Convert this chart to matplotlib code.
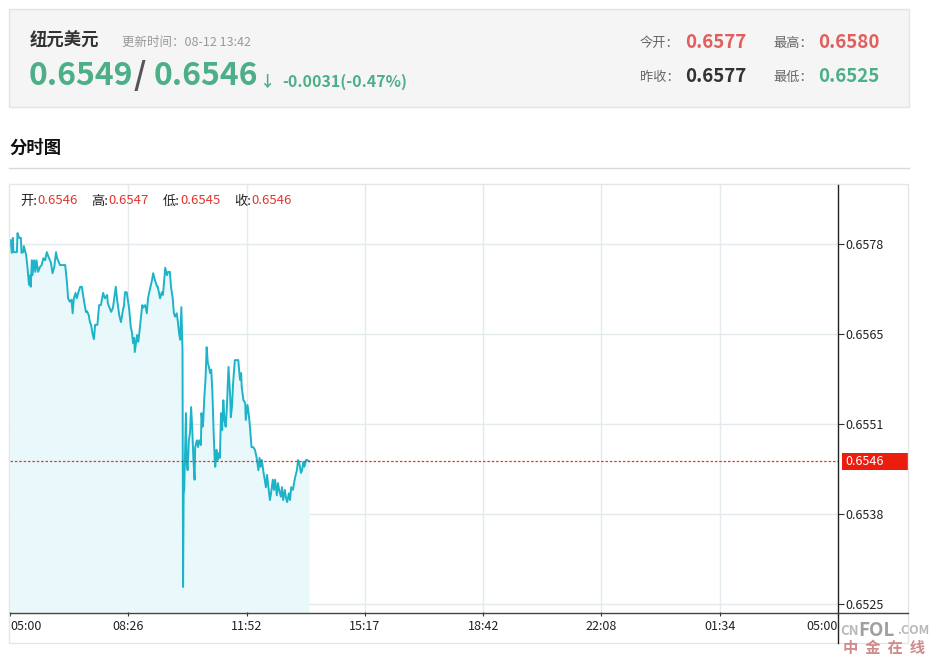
import matplotlib
matplotlib.use('Agg')
import matplotlib.pyplot as plt
from matplotlib.patches import Rectangle
from matplotlib.lines import Line2D
import matplotlib.transforms as mtransforms
import numpy as np

plt.rcParams['font.family'] = ['Noto Sans CJK SC', 'DejaVu Sans']

# ---- data (minutes after 05:00, price) ----
minutes = [0, 1, 3, 5, 6, 12, 13, 16, 19, 20, 23, 24, 28, 30, 33, 35, 36, 38, 39, 42,
           44, 46, 49, 52, 55, 58, 61, 64, 67, 71, 74, 77, 80, 82, 87, 96, 99, 101, 104, 107,
           109, 111, 114, 116, 119, 122, 125, 127, 130, 132, 134, 137, 139, 141, 144, 146, 148, 152, 155, 158,
           162, 165, 169, 170, 176, 179, 184, 186, 190, 193, 197, 198, 200, 203, 207, 210, 212, 214, 216, 217,
           221, 223, 224, 228, 230, 231, 235, 238, 240, 243, 247, 249, 252, 256, 257, 261, 264, 266, 270, 273,
           275, 278, 280, 283, 285, 287, 290, 292, 294, 296, 298, 300, 301, 302, 303, 306, 307, 309, 311, 313,
           315, 317, 319, 321, 322, 325, 327, 329, 332, 333, 335, 336, 338, 340, 342, 344, 346, 348, 350, 352,
           354, 356, 357, 359, 361, 363, 365, 367, 369, 371, 373, 375, 377, 380, 383, 384, 386, 388, 391, 397,
           400, 402, 403, 406, 409, 410, 413, 415, 417, 420, 423, 426, 429, 432, 434, 436, 438, 441, 443, 445,
           447, 450, 452, 454, 457, 459, 461, 464, 466, 468, 471, 473, 475, 478, 480, 482, 485, 487, 489, 492,
           494, 496, 499, 501, 503, 506, 508, 510, 512, 515, 517, 520]
prices = [0.65783, 0.65786, 0.65767, 0.65789, 0.65768, 0.65768, 0.65796, 0.65789, 0.65789, 0.65767,
          0.65768, 0.65777, 0.65764, 0.65749, 0.65720, 0.65734, 0.65717, 0.65756, 0.65734, 0.65756,
          0.65739, 0.65756, 0.65739, 0.65746, 0.65749, 0.65759, 0.65756, 0.65768, 0.65761, 0.65753,
          0.65737, 0.65746, 0.65768, 0.65759, 0.65749, 0.65749, 0.65724, 0.65700, 0.65695, 0.65698,
          0.65678, 0.65700, 0.65708, 0.65700, 0.65709, 0.65717, 0.65717, 0.65705, 0.65690, 0.65680,
          0.65681, 0.65675, 0.65665, 0.65661, 0.65646, 0.65640, 0.65661, 0.65661, 0.65690, 0.65690,
          0.65708, 0.65700, 0.65705, 0.65693, 0.65680, 0.65686, 0.65717, 0.65700, 0.65675, 0.65665,
          0.65686, 0.65687, 0.65709, 0.65709, 0.65686, 0.65658, 0.65650, 0.65634, 0.65642, 0.65621,
          0.65646, 0.65636, 0.65642, 0.65673, 0.65690, 0.65686, 0.65690, 0.65678, 0.65700, 0.65712,
          0.65727, 0.65737, 0.65727, 0.65717, 0.65717, 0.65700, 0.65709, 0.65705, 0.65745, 0.65734,
          0.65739, 0.65739, 0.65717, 0.65700, 0.65678, 0.65673, 0.65678, 0.65665, 0.65649, 0.65639,
          0.65687, 0.65624, 0.65275, 0.65413, 0.65418, 0.65531, 0.65458, 0.65447, 0.65491, 0.65502,
          0.65540, 0.65506, 0.65462, 0.65433, 0.65481, 0.65491, 0.65481, 0.65491, 0.65484, 0.65531,
          0.65511, 0.65518, 0.65555, 0.65580, 0.65628, 0.65605, 0.65599, 0.65590, 0.65595, 0.65561,
          0.65506, 0.65462, 0.65452, 0.65477, 0.65462, 0.65472, 0.65465, 0.65531, 0.65506, 0.65550,
          0.65521, 0.65511, 0.65536, 0.65599, 0.65555, 0.65525, 0.65540, 0.65575, 0.65609, 0.65609,
          0.65580, 0.65590, 0.65569, 0.65550, 0.65546, 0.65521, 0.65543, 0.65531, 0.65514, 0.65481,
          0.65481, 0.65477, 0.65465, 0.65447, 0.65465, 0.65452, 0.65462, 0.65443, 0.65433, 0.65422,
          0.65440, 0.65418, 0.65403, 0.65413, 0.65433, 0.65418, 0.65433, 0.65410, 0.65428, 0.65418,
          0.65408, 0.65422, 0.65403, 0.65418, 0.65406, 0.65400, 0.65413, 0.65403, 0.65422, 0.65418,
          0.65428, 0.65437, 0.65447, 0.65462, 0.65458, 0.65443, 0.65447, 0.65459, 0.65452, 0.65462,
          0.65462, 0.6546]

x_tick_labels = ['05:00', '08:26', '11:52', '15:17', '18:42', '22:08', '01:34', '05:00']
y_tick_labels = ['0.6525', '0.6538', '0.6551', '0.6565', '0.6578']
y_low, y_high = 0.6525, 0.6578
last_price = 0.6546

ohlc_names = ['开:', '高:', '低:', '收:']
ohlc_values = ['0.6546', '0.6547', '0.6545', '0.6546']

# ---- figure ----
W, H = 936, 658
fig = plt.figure(figsize=(W / 100, H / 100), dpi=100)
fig.patch.set_facecolor('white')

GREEN = '#4daf88'
RED = '#e25d5d'
LINE = '#1db3c9'
FILL = '#e9f9fb'
GRID = '#e3eaee'


def fx(x):
    return x / W


def fy(y):
    return 1 - y / H


def ftxt(x, y, s, **kw):
    kw.setdefault('va', 'center')
    return fig.text(fx(x), fy(y), s, **kw)


# header box
fig.patches.append(Rectangle((fx(9), fy(107)), fx(900), 98 / H, transform=fig.transFigure,
                             facecolor='#f5f5f5', edgecolor='#e4e4e4', lw=1))
ftxt(30, 41, '纽元美元', fontsize=12.5, fontweight='bold', color='#333333')
ftxt(122, 42, '更新时间：08-12 13:42', fontsize=9, color='#999999')
ftxt(29, 76, '0.6549', fontsize=23, fontweight='bold', color=GREEN)
ftxt(134, 76, '/', fontsize=23, fontweight='bold', color='#555555')
ftxt(154, 76, '0.6546', fontsize=23, fontweight='bold', color=GREEN)
ftxt(260, 82, '↓', fontsize=11, fontweight='bold', color=GREEN)
ftxt(282, 82, '-0.0031(-0.47%)', fontsize=11.5, fontweight='bold', color=GREEN)

ftxt(640, 43, '今开：', fontsize=9.5, color='#666666')
ftxt(685, 42, '0.6577', fontsize=13.5, fontweight='bold', color=RED)
ftxt(773, 43, '最高：', fontsize=9.5, color='#666666')
ftxt(818, 42, '0.6580', fontsize=13.5, fontweight='bold', color=RED)
ftxt(640, 77, '昨收：', fontsize=9.5, color='#666666')
ftxt(685, 76, '0.6577', fontsize=13.5, fontweight='bold', color='#333333')
ftxt(773, 77, '最低：', fontsize=9.5, color='#666666')
ftxt(818, 76, '0.6525', fontsize=13.5, fontweight='bold', color=GREEN)

ftxt(9, 148, '分时图', fontsize=12.5, fontweight='bold', color='#111111')
fig.lines.append(Line2D([fx(9), fx(909)], [fy(168.5), fy(168.5)], transform=fig.transFigure,
                        color='#d8d8d8', lw=1))

# chart outer box
fig.patches.append(Rectangle((fx(9), fy(643)), fx(899), 459 / H, transform=fig.transFigure,
                             facecolor='none', edgecolor='#e6e6e6', lw=1))

# ---- plot area ----
ax = fig.add_axes([fx(10), fy(612), fx(828), 427 / H])
px_per_price = 360 / (y_high - y_low)
ax.set_ylim(y_low - 8 / px_per_price, y_high + 59 / px_per_price)
ax.set_xlim(0, 1440)

bottom = ax.get_ylim()[0]
ax.fill_between(minutes, prices, bottom, color=FILL, lw=0, zorder=1)
ax.plot(minutes, prices, color=LINE, lw=1.4, zorder=3)

x_ticks = np.linspace(0, 1440, len(x_tick_labels))
y_ticks = np.linspace(y_low, y_high, len(y_tick_labels))
for t in x_ticks[1:-1]:
    ax.axvline(t, color=GRID, lw=1, zorder=0.5)
for v in y_ticks:
    ax.axhline(v, color=GRID, lw=1, zorder=0.5)

ax.axhline(last_price, color='#e03a2f', lw=0.9, ls=(0, (2, 1.5)), zorder=4)

for s in ax.spines.values():
    s.set_visible(False)

ax.set_xticks(x_ticks)
ax.set_xticklabels(x_tick_labels)
ax.tick_params(axis='x', length=3, width=0.8, color='#333333', labelsize=9, pad=3,
               labelcolor='#222222')
xt = ax.get_xticklabels()
xt[0].set_ha('left')
xt[-1].set_ha('right')

ax.yaxis.tick_right()
ax.set_yticks(y_ticks)
ax.set_yticklabels(y_tick_labels)
ax.tick_params(axis='y', length=4, width=0.8, color='#333333', labelsize=9, pad=1.5,
               labelcolor='#222222')

# axis lines
fig.lines.append(Line2D([fx(838), fx(838)], [fy(185), fy(643)], transform=fig.transFigure,
                        color='#222222', lw=1))
fig.lines.append(Line2D([fx(10), fx(908)], [fy(613), fy(613)], transform=fig.transFigure,
                        color='#444444', lw=1))

# last price tag
trans = mtransforms.blended_transform_factory(ax.transAxes, ax.transData)
tag_h = 17 / px_per_price
ax.add_patch(Rectangle((832 / 828, last_price - tag_h / 2), 66 / 828, tag_h, transform=trans,
                       facecolor='#ec1c0e', edgecolor='none', clip_on=False, zorder=5))
ax.text(835 / 828, last_price, '0.6546', transform=trans, color='white', fontsize=9,
        va='center', ha='left', zorder=6, clip_on=False)

# OHLC line at top
xpos = 20
for name, val in zip(ohlc_names, ohlc_values):
    ftxt(xpos, 201, name, fontsize=9.5, color='#222222')
    ftxt(xpos + 17, 201, val, fontsize=9.5, color='#e0362c')
    xpos += 71.5

# watermark
ftxt(840, 631, 'CN', fontsize=9.5, color='#b8b8b8', fontweight='bold')
ftxt(858, 630, 'FOL', fontsize=13.5, color='#a0a0a0', fontweight='bold')
ftxt(897, 631, '.COM', fontsize=9, color='#b8b8b8', fontweight='bold')
ftxt(843, 648, '中  金  在  线', fontsize=11, color='#d08a8a', fontweight='bold')

fig.savefig('out.png', dpi=100)
